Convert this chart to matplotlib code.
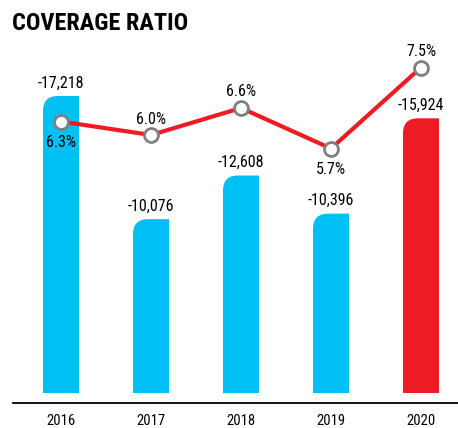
import matplotlib
matplotlib.use('Agg')
from matplotlib import pyplot as plt
from matplotlib.path import Path
from matplotlib.patches import PathPatch

years = ['2016', '2017', '2018', '2019', '2020']
bar_values = [17218, 10076, 12608, 10396, 15924]
bar_labels = ['-17,218', '-10,076', '-12,608', '-10,396', '-15,924']
ratio = [6.3, 6.0, 6.6, 5.7, 7.5]
ratio_below = [True, False, False, True, False]  # label under the marker?

blue = '#00BFF3'
red = '#ED1C24'
bar_colors = [blue, blue, blue, blue, red]

plt.rcParams['font.family'] = ['Roboto Condensed', 'Archivo Narrow', 'DejaVu Sans']

W, H = 458, 428
fig = plt.figure(figsize=(W / 100, H / 100), dpi=100)

# axes: left 13px, bottom line at y=403px, top at y=40px
ax = fig.add_axes([13 / W, (H - 403) / H, (W - 13) / W, (403 - 40) / H])
px_per_x = 90.0
px_per_y = 0.01725
ax.set_xlim(-48 / px_per_x, 4 + 37 / px_per_x)
ax.set_ylim(-10 / px_per_y, 353 / px_per_y)

bar_w = 36 / px_per_x
rx = 15 / px_per_x
ry = 15 / px_per_y


def rounded_bar(x, h, color):
    x0, x1 = x - bar_w / 2, x + bar_w / 2
    verts = [(x0, 0), (x0, h - ry), (x0, h), (x0 + rx, h), (x1, h), (x1, 0), (x0, 0)]
    codes = [Path.MOVETO, Path.LINETO, Path.CURVE3, Path.CURVE3, Path.LINETO, Path.LINETO, Path.CLOSEPOLY]
    ax.add_patch(PathPatch(Path(verts, codes), facecolor=color, edgecolor='none'))


for i, v in enumerate(bar_values):
    rounded_bar(i, v, bar_colors[i])
    ax.annotate(bar_labels[i], (i, v), xytext=(0, 13), textcoords='offset pixels',
                ha='center', va='center', fontsize=11.5)

for s in ['top', 'right', 'left']:
    ax.spines[s].set_visible(False)
ax.spines['bottom'].set_linewidth(1.3)
ax.set_yticks([])
ax.set_xticks(range(len(years)))
ax.set_xticklabels(years, fontsize=10.5)
ax.tick_params(axis='x', length=0, pad=8)

# ratio line on twin axis
ax2 = ax.twinx()
ax2.set_position(ax.get_position())
ax2.set_ylim(6 - (403 - 135) / 45, 6 + (135 - 40) / 45)
ax2.axis('off')
ax2.plot(range(len(ratio)), ratio, color=red, linewidth=3, zorder=3,
         marker='o', markersize=10, markerfacecolor='white',
         markeredgecolor='#808080', markeredgewidth=2)
for i, r in enumerate(ratio):
    off = -21 if ratio_below[i] else 16
    ax2.annotate('%.1f%%' % r, (i, r), xytext=(0, off), textcoords='offset pixels',
                 ha='center', va='center', fontsize=11.5)

fig.text(12 / W, 1 - 12 / H, 'COVERAGE RATIO', fontsize=17.5, fontweight='bold',
         ha='left', va='top')

fig.savefig('out.png', dpi=100)
